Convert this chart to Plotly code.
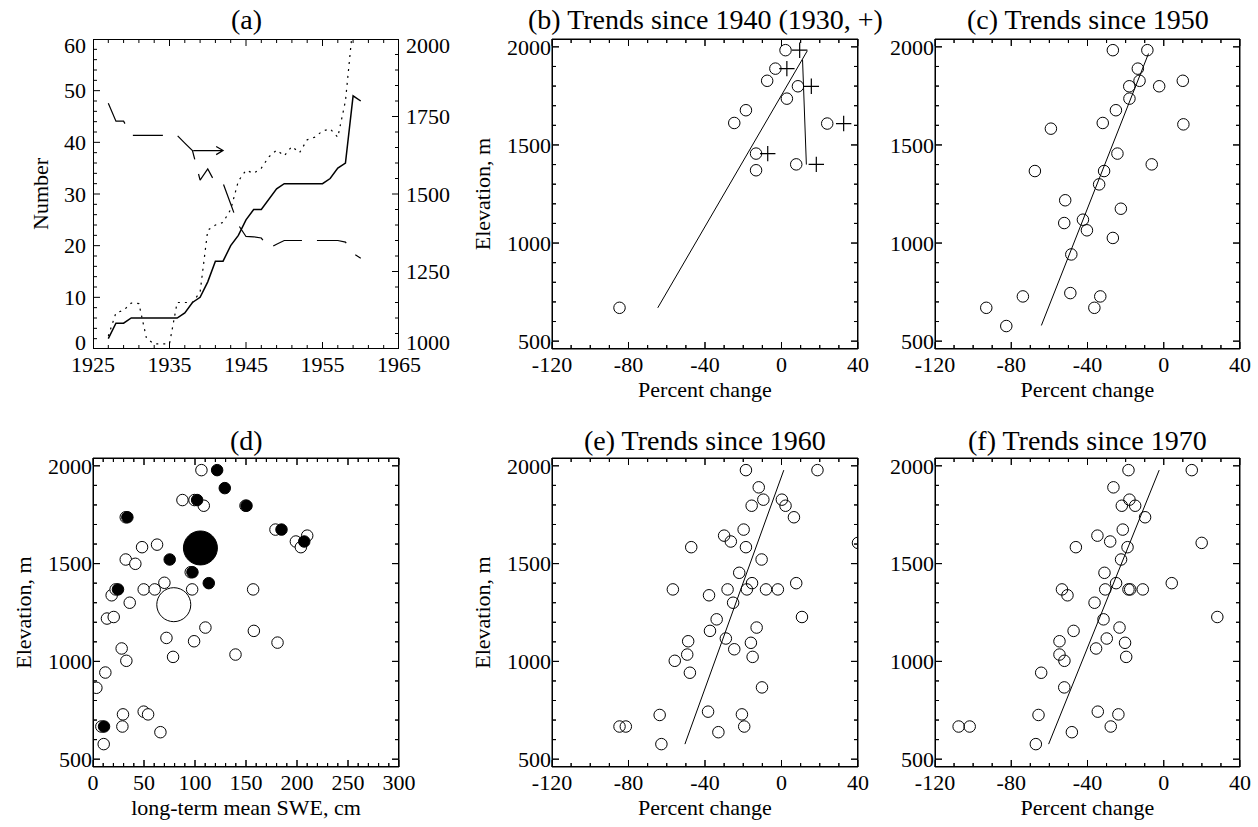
import plotly.graph_objects as go

# ------------------------------------------------------------------ data
years_solid = list(range(1927, 1961))
number_solid = [2, 5, 5, 6, 6, 6, 6, 6, 6, 6, 7, 9, 10, 13, 17, 17, 20, 22, 25, 27,
                27, 29, 31, 32, 32, 32, 32, 32, 32, 33, 35, 36, 49, 48]
years_dot = list(range(1927, 1960))
number_dot = [2.5, 7, 7.5, 8.9, 8.8, 2, 1, 1, 1, 9, 9, 9, 11, 23, 24, 24.5, 27, 32.5,
              34.6, 34, 35, 37.2, 38.5, 37.4, 39.2, 38, 40.5, 41, 42.2, 42.6, 41, 48, 63]
years_dash = list(range(1927, 1961))
elev_dash = [1793, 1735, 1735, 1689, 1689, 1689, 1689, 1689, 1689, 1689, 1664, 1640,
             1545, 1581, 1535, 1535, 1468, 1400, 1363, 1362, 1358, 1325, 1338, 1350,
             1350, 1350, 1350, 1350, 1350, 1350, 1350, 1345, 1308, 1293]
arrow_years = [1938.1, 1942.0, 1941.1, 1942.0, 1941.1]
arrow_elev = [1640, 1640, 1653, 1640, 1627]

b_circ_pct = [2.1, -3.2, -7.5, 8.6, 2.8, -18.6, -24.7, 23.9, -13.3, -13.3, 7.7, -84.7]
b_circ_elev = [1983, 1889, 1827, 1799, 1736, 1677, 1612, 1609, 1456, 1371, 1401, 670]
b_plus_pct = [9.5, 2.8, 15.6, -7.2, 18.2, 32.5]
b_plus_elev = [1983, 1889, 1799, 1456, 1401, 1609]
b_fit_pct = [-64.7, 13.5]
b_fit_elev = [670, 1980]
b_fit2_pct = [11.0, 13.0]
b_fit2_elev = [1935, 1400]

c_pct = [-26.7, -8.6, -13.6, -12.7, 10.0, -18.1, -2.4, -18.0, -25.1, -32.0, 10.3, -59.2,
         -24.3, -6.3, -67.6, -31.3, -33.9, -51.7, -22.5, -52.2, -42.4, -40.3, -26.7,
         -48.5, -49.0, -73.9, -33.3, -93.1, -36.4, -82.6]
c_elev = [1983, 1983, 1889, 1827, 1827, 1799, 1799, 1736, 1677, 1612, 1605, 1583,
          1456, 1401, 1367, 1367, 1299, 1218, 1175, 1102, 1119, 1065, 1026,
          942, 745, 728, 728, 670, 670, 577]
c_fit_pct = [-64.2, -8.0]
c_fit_elev = [580, 1966]

d_open_swe = [106.3, 87.7, 99.5, 108.6, 178.9, 198.9, 210.0, 203.8, 48.1, 62.8, 32.1,
              41.5, 49.7, 60.5, 70.0, 97.2, 157.0, 18.3, 36.0, 13.7, 20.3, 72.0, 99.1,
              110.2, 157.7, 180.9, 78.5, 139.7, 28.1, 32.7, 12.1, 3.3, 29.4, 49.7, 54.0,
              28.8, 66.1, 10.5, 8.2, 32.1, 22.2, 149.5, 95.8]
d_open_elev = [1978, 1825, 1825, 1796, 1674, 1613, 1643, 1584, 1584, 1597, 1521,
               1499, 1368, 1368, 1402, 1368, 1368, 1338, 1300, 1219, 1227, 1120, 1103,
               1173, 1156, 1096, 1023, 1035, 1066, 1003, 943, 865, 729, 743, 729,
               667, 638, 577, 667, 1737, 1368, 1796, 1456]
d_fill_swe = [121.7, 129.2, 102.1, 150.5, 33.7, 184.8, 207.1, 75.2, 97.5, 113.5, 24.5, 10.8]
d_fill_elev = [1978, 1886, 1825, 1796, 1737, 1674, 1613, 1521, 1456, 1400, 1368, 667]
d_big_fill_swe = [105.3]
d_big_fill_elev = [1580]
d_big_open_swe = [79.2]
d_big_open_elev = [1290]

e_pct = [-18.6, 18.8, -11.9, -9.5, -15.6, 0.2, 2.1, 6.5, -19.8, -30.0, -26.5, -47.2,
         -18.6, -10.4, -22.1, -15.4, 7.7, -56.8, -28.2, -18.1, -8.1, -1.9, -37.9, -25.3,
         -33.9, 10.7, -37.4, -13.0, -29.1, -48.8, -16.0, -24.7, -49.3, -55.8, -15.1,
         -47.9, -10.2, -38.4, -20.7, -63.7, -84.7, -81.4, -19.5, -33.0, -62.8, 40.0]
e_elev = [1978, 1978, 1890, 1827, 1796, 1827, 1796, 1737, 1674, 1643, 1613, 1584,
          1584, 1521, 1453, 1400, 1400, 1368, 1368, 1368, 1368, 1368, 1338, 1300,
          1215, 1227, 1156, 1173, 1117, 1103, 1095, 1062, 1035, 1003, 1023,
          942, 867, 743, 729, 726, 667, 667, 667, 638, 577, 1606]
e_fit_pct = [-50.5, 1.2]
e_fit_elev = [577, 1978]

f_pct = [-18.5, 14.7, -26.4, -18.0, -22.0, -15.0, -9.8, -21.5, -34.8, -28.1, 19.9, -46.1,
         -19.0, -22.4, -31.1, 4.2, -25.0, -53.4, -30.7, -18.5, -17.6, -11.0, -50.5, -36.3,
         28.1, -31.6, -23.2, -47.3, -54.7, -29.9, -20.3, -35.5, -54.7, -52.1, -19.7,
         -64.3, -52.2, -34.6, -23.8, -65.7, -107.6, -101.8, -27.8, -48.2, -67.1]
f_elev = [1978, 1978, 1890, 1827, 1796, 1796, 1737, 1674, 1643, 1613, 1606, 1584,
          1584, 1521, 1453, 1400, 1400, 1368, 1368, 1368, 1368, 1368, 1338, 1300,
          1227, 1215, 1173, 1156, 1103, 1117, 1095, 1066, 1035, 1003, 1023,
          942, 867, 743, 729, 726, 667, 667, 667, 638, 577]
f_fit_pct = [-60.4, -2.4]
f_fit_elev = [577, 1978]

# axis ranges and tick steps
year_range = [1925, 1965]
number_range = [0, 60]
elev2_range = [1000, 2000]
pct_range = [-120, 40]
elev_range = [460, 2040]
swe_range = [0, 300]

number_ticks = [0, 10, 20, 30, 40, 50, 60]
elev2_ticks = [1000, 1250, 1500, 1750, 2000]
pct_ticks = [-120, -80, -40, 0, 40]
pct_ticktext = ['-120', '-80', '-40', '0', '40']

titles = ['(a)', '(b) Trends since 1940 (1930, +)', '(c) Trends since 1950',
          '(d)', '(e) Trends since 1960', '(f) Trends since 1970']

# ------------------------------------------------------------------ layout helpers
FONT = 'Liberation Serif'
W, H = 1258, 827


def xdom(p0, p1):
    return [p0 / W, p1 / W]


def ydom(ptop, pbot):
    return [1 - pbot / H, 1 - ptop / H]


cols = [(93, 399), (552, 858), (935, 1240)]
rows = [(39, 349), (458, 767)]

MAJ, MIN = 7, 4


def steps(r, step, start=None):
    s = r[0] if start is None else start
    out = []
    v = s
    while v <= r[1] + 1e-9:
        if v >= r[0] - 1e-9:
            out.append(v)
        v += step
    return out


def box(xr, yr, xa, ya):
    # drawn 2px wide; the subplot clip keeps the inner 1px
    x0, x1 = xr
    y0, y1 = yr
    return go.Scatter(x=[x0, x1, x1, x0, x0], y=[y0, y0, y1, y1, y0], mode='lines',
                      line=dict(color='black', width=2), hoverinfo='skip',
                      xaxis=xa, yaxis=ya)


def tick_segments(xr, yr, xmaj, xmin, ymaj, ymin, wpx, hpx,
                  left=True, right=True, top=True, bottom=True):
    x0, x1 = xr
    y0, y1 = yr
    sx = (x1 - x0) / wpx
    sy = (y1 - y0) / hpx
    segs = []
    xt = [(v, MAJ) for v in xmaj] + [(v, MIN) for v in xmin if v not in xmaj]
    yt = [(v, MAJ) for v in ymaj] + [(v, MIN) for v in ymin if v not in ymaj]
    for v, L in xt:
        if bottom:
            segs.append(((v, y0), (v, y0 + L * sy)))
        if top:
            segs.append(((v, y1), (v, y1 - L * sy)))
    for v, L in yt:
        if left:
            segs.append(((x0, v), (x0 + L * sx, v)))
        if right:
            segs.append(((x1, v), (x1 - L * sx, v)))
    return segs


def tick_trace(segs, xa, ya):
    xs, ys = [], []
    for (a, b) in segs:
        xs += [a[0], b[0], None]
        ys += [a[1], b[1], None]
    return go.Scatter(x=xs, y=ys, mode='lines', line=dict(color='black', width=1),
                      hoverinfo='skip', xaxis=xa, yaxis=ya)


def frame_path(xr, yr, segs, col, row):
    # same frame as an SVG path in paper coordinates
    x0, x1 = xr
    y0, y1 = yr
    w = col[1] - col[0]
    h = row[1] - row[0]

    def P(x, y):
        px = col[0] + (x - x0) / (x1 - x0) * w
        py = row[1] - (y - y0) / (y1 - y0) * h
        return '%.5f,%.5f' % (px / W, 1 - py / H)
    p = 'M%s L%s L%s L%s Z' % (P(x0, y0), P(x1, y0), P(x1, y1), P(x0, y1))
    for (a, b) in segs:
        p += ' M%s L%s' % (P(*a), P(*b))
    return dict(type='path', xref='paper', yref='paper', path=p,
                line=dict(color='black', width=1), layer='above')


def axstyle(**kw):
    d = dict(showline=False, ticks='inside', ticklen=7, tickwidth=1,
             tickcolor='rgba(0,0,0,0)', showgrid=False, zeroline=False, automargin=False,
             tickfont=dict(family=FONT, size=22, color='black'))
    d.update(kw)
    return d


def xtitle(t):
    return dict(text=t, font=dict(family=FONT, size=22, color='black'), standoff=2)


def ytitle(t):
    return dict(text=t, font=dict(family=FONT, size=22, color='black'), standoff=10)


fig = go.Figure()
circ = dict(symbol='circle-open', size=11.5, color='black', line=dict(width=1, color='black'))

# (a)
fig.add_trace(go.Scatter(x=years_solid, y=number_solid, mode='lines',
                         line=dict(color='black', width=1.5), xaxis='x', yaxis='y'))
fig.add_trace(go.Scatter(x=years_dot, y=number_dot, mode='lines',
                         line=dict(color='black', width=1.2, dash='2px,5px'),
                         xaxis='x', yaxis='y'))
fig.add_trace(go.Scatter(x=years_dash, y=elev_dash, mode='lines',
                         line=dict(color='black', width=1.2, dash='30px,15px'),
                         xaxis='x', yaxis='y2'))
fig.add_trace(go.Scatter(x=arrow_years, y=arrow_elev, mode='lines',
                         line=dict(color='black', width=1.2), xaxis='x', yaxis='y2'))

# (b)
fig.add_trace(go.Scatter(x=b_fit_pct, y=b_fit_elev, mode='lines',
                         line=dict(color='black', width=1), xaxis='x2', yaxis='y3'))
fig.add_trace(go.Scatter(x=b_fit2_pct, y=b_fit2_elev, mode='lines',
                         line=dict(color='black', width=1), xaxis='x2', yaxis='y3'))
fig.add_trace(go.Scatter(x=b_circ_pct, y=b_circ_elev, mode='markers', marker=circ,
                         xaxis='x2', yaxis='y3'))
fig.add_trace(go.Scatter(x=b_plus_pct, y=b_plus_elev, mode='markers',
                         marker=dict(symbol='cross-thin-open', size=11, color='black',
                                     line=dict(width=1.2, color='black')),
                         xaxis='x2', yaxis='y3'))

# (c)
fig.add_trace(go.Scatter(x=c_fit_pct, y=c_fit_elev, mode='lines',
                         line=dict(color='black', width=1), xaxis='x3', yaxis='y4'))
fig.add_trace(go.Scatter(x=c_pct, y=c_elev, mode='markers', marker=circ,
                         xaxis='x3', yaxis='y4'))

# (d)
fig.add_trace(go.Scatter(x=d_open_swe, y=d_open_elev, mode='markers',
                         marker=dict(symbol='circle', size=11.5, color='white',
                                     line=dict(width=1, color='black')),
                         xaxis='x4', yaxis='y5'))
fig.add_trace(go.Scatter(x=d_fill_swe, y=d_fill_elev, mode='markers',
                         marker=dict(symbol='circle', size=11.5, color='black',
                                     line=dict(width=1, color='black')),
                         xaxis='x4', yaxis='y5'))
fig.add_trace(go.Scatter(x=d_big_open_swe, y=d_big_open_elev, mode='markers',
                         marker=dict(symbol='circle', size=34, color='white',
                                     line=dict(width=1, color='black')),
                         xaxis='x4', yaxis='y5'))
fig.add_trace(go.Scatter(x=d_big_fill_swe, y=d_big_fill_elev, mode='markers',
                         marker=dict(symbol='circle', size=34, color='black',
                                     line=dict(width=1, color='black')),
                         xaxis='x4', yaxis='y5'))

# (e)
fig.add_trace(go.Scatter(x=e_fit_pct, y=e_fit_elev, mode='lines',
                         line=dict(color='black', width=1), xaxis='x5', yaxis='y6'))
fig.add_trace(go.Scatter(x=e_pct, y=e_elev, mode='markers', marker=circ,
                         xaxis='x5', yaxis='y6'))

# (f)
fig.add_trace(go.Scatter(x=f_fit_pct, y=f_fit_elev, mode='lines',
                         line=dict(color='black', width=1), xaxis='x6', yaxis='y7'))
fig.add_trace(go.Scatter(x=f_pct, y=f_elev, mode='markers', marker=circ,
                         xaxis='x6', yaxis='y7'))

# frames and tick marks: panel (a)
wa, ha = cols[0][1] - cols[0][0], rows[0][1] - rows[0][0]
fig.add_trace(box(year_range, number_range, 'x', 'y'))
fig.add_trace(tick_trace(tick_segments(year_range, number_range, steps(year_range, 10),
                                       steps(year_range, 2), number_ticks,
                                       steps(number_range, 2), wa, ha, right=False),
                         'x', 'y'))
fig.add_trace(tick_trace(tick_segments(year_range, elev2_range, [], [], elev2_ticks,
                                       steps(elev2_range, 50), wa, ha,
                                       left=False, top=False, bottom=False),
                         'x', 'y2'))

layout = dict(
    template='none',
    width=W, height=H, margin=dict(l=0, r=0, t=0, b=0, pad=0), autosize=False,
    paper_bgcolor='white', plot_bgcolor='rgba(0,0,0,0)', showlegend=False,
    font=dict(family=FONT, color='black'),
    xaxis=axstyle(domain=xdom(*cols[0]), anchor='y', range=year_range,
                  tickmode='linear', tick0=1925, dtick=10),
    yaxis=axstyle(domain=ydom(*rows[0]), anchor='x', range=number_range,
                  showticklabels=False),
    yaxis2=axstyle(domain=ydom(*rows[0]), anchor='x', overlaying='y', side='right',
                   range=elev2_range, showticklabels=False),
)

# frames and tick marks: panels (b)-(f), drawn on an overlaid copy of each elevation axis
pct_minor = steps(pct_range, 10)
elev_major = steps(elev_range, 500, 500)
elev_minor = steps(elev_range, 100, 500)
shapes = []
panel_axes = [
    ('x2', 'y3', 'y8', cols[1], rows[0], pct_range, 'Elevation, m', 'Percent change'),
    ('x3', 'y4', 'y9', cols[2], rows[0], pct_range, None, 'Percent change'),
    ('x4', 'y5', 'y10', cols[0], rows[1], swe_range, 'Elevation, m', 'long-term mean SWE, cm'),
    ('x5', 'y6', 'y11', cols[1], rows[1], pct_range, 'Elevation, m', 'Percent change'),
    ('x6', 'y7', 'y12', cols[2], rows[1], pct_range, None, 'Percent change'),
]
for xa, ya, yo, col, row, xr, ytl, xtl in panel_axes:
    if xr == pct_range:
        xmaj, xmin = pct_ticks, pct_minor
    else:
        xmaj, xmin = steps(swe_range, 50), steps(swe_range, 10)
    segs = tick_segments(xr, elev_range, xmaj, xmin, elev_major, elev_minor,
                         col[1] - col[0], row[1] - row[0])
    fig.add_trace(box(xr, elev_range, xa, yo))
    fig.add_trace(tick_trace(segs, xa, yo))
    shapes.append(frame_path(xr, elev_range, segs, col, row))

    xkey = 'xaxis' + xa[1:]
    ykey = 'yaxis' + ya[1:]
    okey = 'yaxis' + yo[1:]
    if xr == pct_range:
        xa_d = axstyle(domain=xdom(*col), anchor=ya, range=xr, tickmode='array',
                       tickvals=pct_ticks, ticktext=pct_ticktext, title=xtitle(xtl))
    else:
        xa_d = axstyle(domain=xdom(*col), anchor=ya, range=xr, tickmode='linear',
                       tick0=0, dtick=50, title=xtitle(xtl))
    ya_d = axstyle(domain=ydom(*row), anchor=xa, range=elev_range, tickmode='linear',
                   tick0=0, dtick=500)
    if ytl:
        ya_d['title'] = ytitle(ytl)
    layout[xkey] = xa_d
    layout[ykey] = ya_d
    layout[okey] = axstyle(domain=ydom(*row), anchor=xa, overlaying=ya, side='right',
                           range=elev_range, showticklabels=False)

layout['shapes'] = shapes

annotations = []
title_pos = [(cols[0], 19), (cols[1], 19), (cols[2], 19),
             (cols[0], 440), (cols[1], 440), (cols[2], 440)]
for t, (col, py) in zip(titles, title_pos):
    annotations.append(dict(text=t, xref='paper', yref='paper',
                            x=((col[0] + col[1]) / 2) / W, y=1 - py / H,
                            xanchor='center', yanchor='middle', showarrow=False,
                            font=dict(family=FONT, size=28, color='black')))
# panel (a) axis title and y tick labels (end labels sit slightly inside, as in the original)
annotations.append(dict(text='Number', xref='paper', yref='paper', x=40 / W,
                        y=1 - ((rows[0][0] + rows[0][1]) / 2) / H, textangle=-90,
                        xanchor='center', yanchor='middle', showarrow=False,
                        font=dict(family=FONT, size=22, color='black')))
for i, v in enumerate(number_ticks):
    shift = 7 if i == 0 else (-6 if i == len(number_ticks) - 1 else 0)
    annotations.append(dict(text=str(v), xref='paper', yref='y', x=(cols[0][0] - 5) / W,
                            y=v, xanchor='right', yanchor='middle', yshift=shift,
                            showarrow=False, font=dict(family=FONT, size=22, color='black')))
for i, v in enumerate(elev2_ticks):
    shift = 7 if i == 0 else (-6 if i == len(elev2_ticks) - 1 else 0)
    annotations.append(dict(text=str(v), xref='paper', yref='y2', x=(cols[0][1] + 5) / W,
                            y=v, xanchor='left', yanchor='middle', yshift=shift,
                            showarrow=False, font=dict(family=FONT, size=22, color='black')))
layout['annotations'] = annotations

fig.update_layout(**layout)
fig.write_html('out.html', config={'displayModeBar': False},
               post_script="document.body.style.margin='0px';")
